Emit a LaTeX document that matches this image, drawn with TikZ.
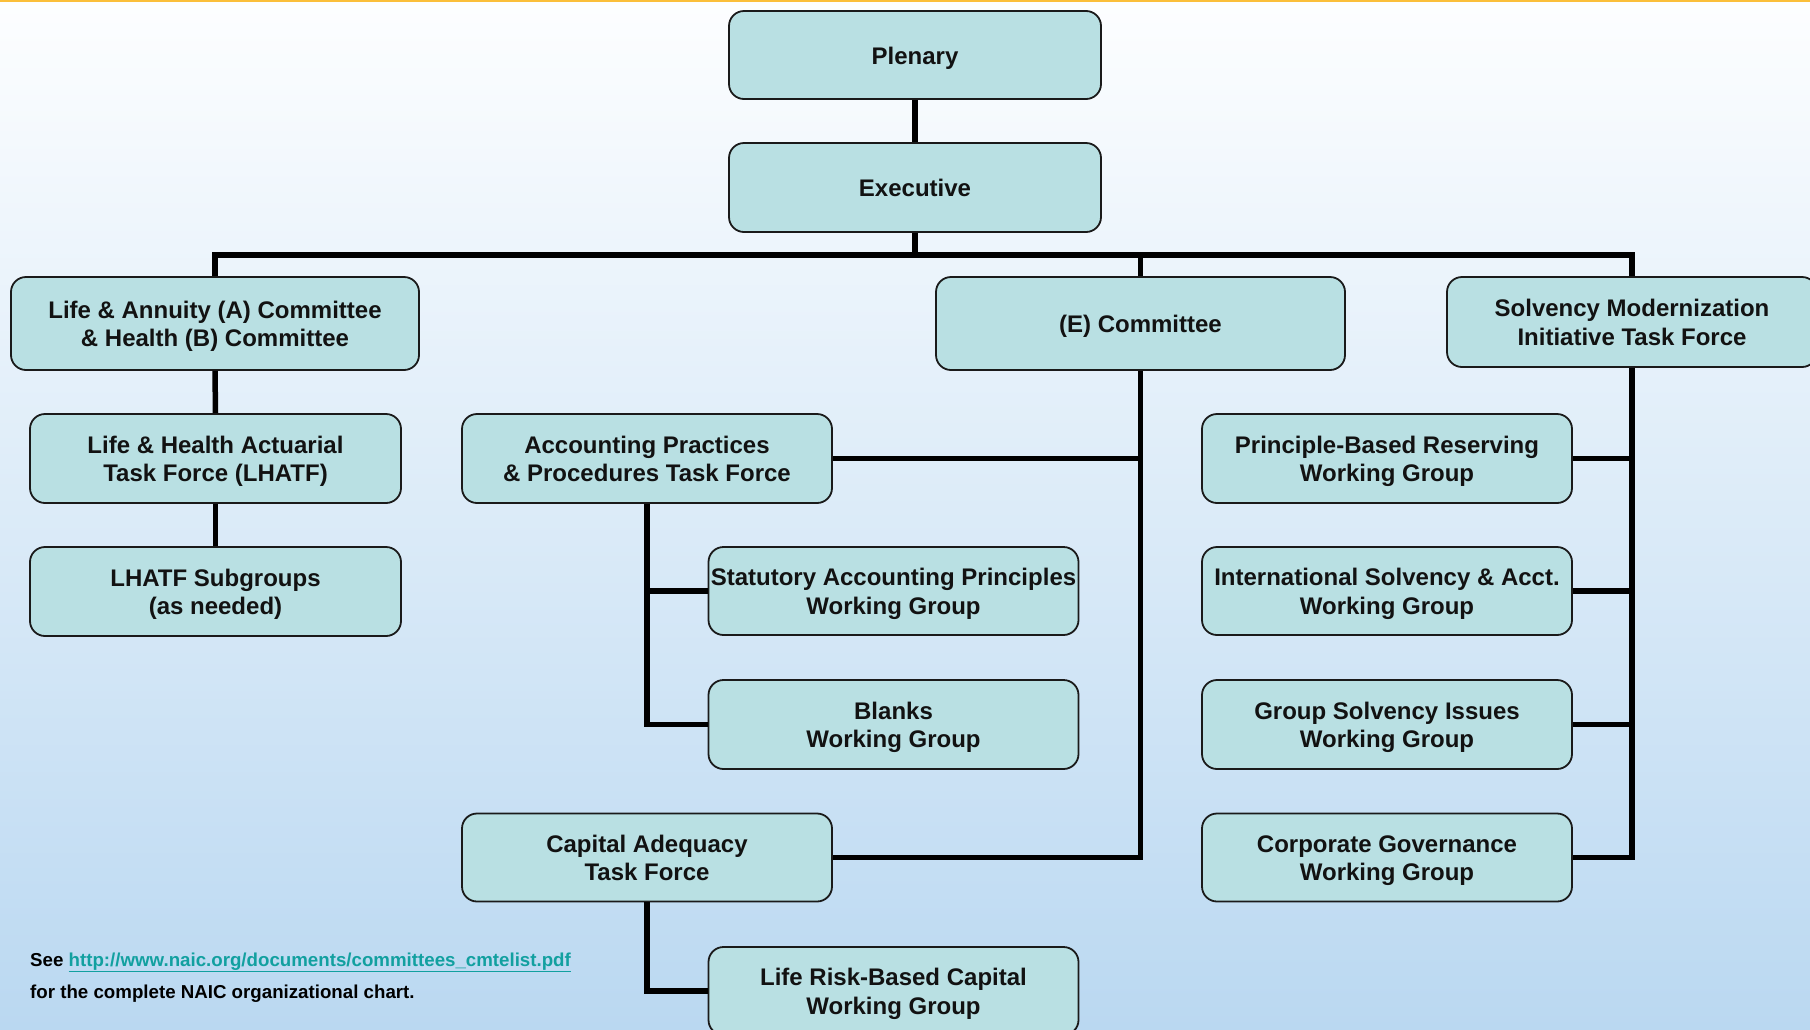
\documentclass[tikz,border=0pt]{standalone}
\usepackage{fontspec}
\setmainfont{Liberation Sans}
\definecolor{boxfill}{HTML}{B9E0E3}
\definecolor{boxline}{HTML}{1A1A1A}
\definecolor{bgtop}{HTML}{FDFEFF}
\definecolor{bgbot}{HTML}{BAD8F1}
\definecolor{topline}{HTML}{FBBF3A}
\definecolor{linkcol}{HTML}{12A0A0}
\newcommand\boxtop{\rule{0pt}{23pt}}
\newcommand\boxbot{\rule[-5pt]{0pt}{0pt}}
\tikzset{
  orgbox/.style={draw=boxline, line width=1.8pt, fill=boxfill, rounded corners=15pt,
    minimum width=370pt, minimum height=88pt, align=center, inner sep=0pt,
    font=\fontsize{24}{28.5}\selectfont\bfseries, text=black!93},
  widebox/.style={orgbox, minimum width=408pt, minimum height=93pt},
  conn/.style={line width=5.5pt, black},
  foot/.style={anchor=base west, inner sep=0pt, font=\fontsize{18.7}{20}\selectfont\bfseries}
}
\begin{document}
\begin{tikzpicture}[x=1pt,y=-1pt]
\useasboundingbox (0,0) rectangle (1810,1029);
\clip (0,0) rectangle (1810,1029);
\shade[top color=bgtop, bottom color=bgbot] (0,0) rectangle (1810,1029);
\fill[topline] (0,0) rectangle (1810,2.2);

\coordinate (bar) at (0,255);

% nodes
\node[orgbox, minimum width=372pt] (plenary) at (915,55) {\boxtop Plenary\boxbot};
\node[orgbox, minimum width=372pt, minimum height=89pt] (exec) at (915,187.5) {\boxtop Executive\boxbot};
\node[widebox] (la) at (215,323.5) {\boxtop Life \& Annuity (A) Committee\\\& Health (B) Committee\boxbot};
\node[orgbox, minimum width=371pt, minimum height=89pt] (lhatf) at (215.5,458.5) {\boxtop Life \& Health Actuarial\\Task Force (LHATF)\boxbot};
\node[orgbox, minimum width=371pt, minimum height=89pt] (sub) at (215.5,591.5) {\boxtop LHATF Subgroups\\(as needed)\boxbot};
\node[widebox, minimum width=409pt] (ecom) at (1140.5,323.5) {\boxtop (E) Committee\boxbot};
\node[orgbox, minimum height=90pt] (smi) at (1632,322) {\boxtop Solvency Modernization\\Initiative Task Force\boxbot};

\node[orgbox, minimum height=89pt] (app) at (647,458.5) {\boxtop Accounting Practices\\\& Procedures Task Force\boxbot};
\node[orgbox] (sap) at (893.5,591) {\boxtop Statutory Accounting Principles\\Working Group\boxbot};
\node[orgbox, minimum height=89pt] (blanks) at (893.5,724.5) {\boxtop Blanks\\Working Group\boxbot};
\node[orgbox] (cap) at (647,857.5) {\boxtop Capital Adequacy\\Task Force\boxbot};
\node[orgbox] (lrbc) at (893.5,991) {\boxtop Life Risk-Based Capital\\Working Group\boxbot};

\node[orgbox, minimum height=89pt] (pbr) at (1387,458.5) {\boxtop Principle-Based Reserving\\Working Group\boxbot};
\node[orgbox] (isa) at (1387,591) {\boxtop International Solvency \& Acct.\\Working Group\boxbot};
\node[orgbox, minimum height=89pt] (gsi) at (1387,724.5) {\boxtop Group Solvency Issues\\Working Group\boxbot};
\node[orgbox] (cg) at (1387,857.5) {\boxtop Corporate Governance\\Working Group\boxbot};

% connectors
\draw[conn] (plenary.south) -- (exec.north);
\draw[conn] (exec.south) -- (exec.south |- bar);
\draw[conn] (la.north) -- (la.north |- bar) -- (smi.north |- bar) -- (smi.north);
\draw[conn] (ecom.north) -- (ecom.north |- bar);
\draw[conn] (la.south) -- (lhatf.north);
\draw[conn] (lhatf.south) -- (sub.north);
\draw[conn] (ecom.south) |- (cap.east);
\draw[conn] (app.east) -- (app.east -| ecom.south);
\draw[conn] (app.south) |- (blanks.west);
\draw[conn] (sap.west) -- (sap.west -| app.south);
\draw[conn] (cap.south) |- (lrbc.west);
\draw[conn] (smi.south) |- (cg.east);
\draw[conn] (pbr.east) -- (pbr.east -| smi.south);
\draw[conn] (isa.east) -- (isa.east -| smi.south);
\draw[conn] (gsi.east) -- (gsi.east -| smi.south);

% footnote
\node[foot] (see) at (30,966) {See \textcolor{linkcol}{\underline{http://www.naic.org/documents/committees\_cmtelist.pdf}}};
\node[foot] (for) at (30,998) {for the complete NAIC organizational chart.};
\end{tikzpicture}
\end{document}
